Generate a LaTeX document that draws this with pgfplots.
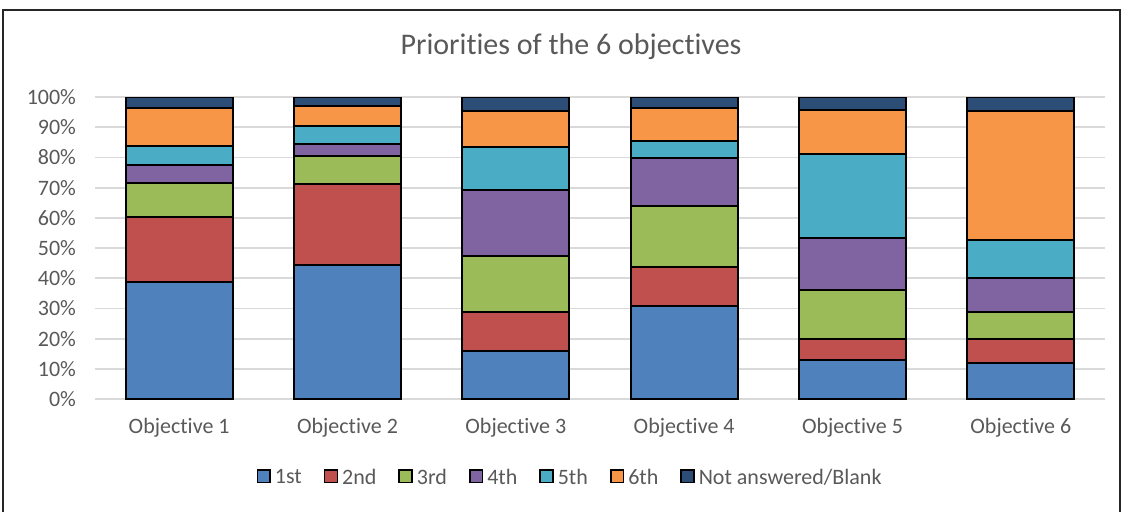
\documentclass[border=0pt]{standalone}
\usepackage{fontspec}
\setmainfont{Carlito}[Ligatures=NoCommon]
\usepackage{pgfplots}
\pgfplotsset{compat=1.18}
\definecolor{c1}{HTML}{4F81BD}
\definecolor{c2}{HTML}{C0504D}
\definecolor{c3}{HTML}{9BBB59}
\definecolor{c4}{HTML}{8064A2}
\definecolor{c5}{HTML}{4BACC6}
\definecolor{c6}{HTML}{F79646}
\definecolor{c7}{HTML}{2C4D75}
\definecolor{txt}{HTML}{595959}
\definecolor{grd}{HTML}{D9D9D9}
\begin{document}
\begin{tikzpicture}
\useasboundingbox (0,0) rectangle (562.5pt,255.5pt);
\draw[line width=1pt, black!85] (1.5pt,-1pt) -- (1.5pt,250.5pt) -- (560pt,250.5pt) -- (560pt,-1pt);
\node[text=txt, font=\fontsize{15}{18}\selectfont] at (285.5pt,232pt) {Priorities of the 6 objectives};
\begin{axis}[
  at={(47.5pt,56pt)}, anchor=south west, scale only axis,
  width=505pt, height=151pt,
  ybar stacked, bar width=53.5pt,
  xmin=-0.5, xmax=5.5, ymin=0, ymax=100,
  xtick={0,1,2,3,4,5},
  xticklabels={Objective 1,Objective 2,Objective 3,Objective 4,Objective 5,Objective 6},
  ytick={0,10,20,30,40,50,60,70,80,90,100},
  yticklabels={0\%,10\%,20\%,30\%,40\%,50\%,60\%,70\%,80\%,90\%,100\%},
  ymajorgrids, grid style={line width=0.9pt, color=grd},
  axis line style={draw=none}, major tick length=0pt,
  tick label style={font=\fontsize{11}{13}\selectfont, text=txt},
  yticklabel style={xshift=-6pt},
  xticklabel style={yshift=-6pt},
  /pgf/number format/assume math mode=true,
  legend style={at={(0.4713,-0.262)}, anchor=center, draw=none, fill=none,
    legend columns=-1, font=\fontsize{11}{13}\selectfont, text=txt,
    /tikz/every even column/.append style={column sep=9pt}},
  legend image code/.code={\draw[#1, line width=0.8pt] (0pt,-2.2pt) rectangle (6.4pt,4.2pt);},
  every axis plot/.append style={draw=black, line width=1pt},
]
\addplot[fill=c1] coordinates {(0,38.9) (1,44.3) (2,16.0) (3,30.7) (4,12.9) (5,11.8)};
\addplot[fill=c2] coordinates {(0,21.4) (1,26.8) (2,12.8) (3,13.0) (4,7.1) (5,8.2)};
\addplot[fill=c3] coordinates {(0,11.3) (1,9.3) (2,18.5) (3,20.1) (4,16.1) (5,8.8)};
\addplot[fill=c4] coordinates {(0,5.8) (1,4.1) (2,22.0) (3,16.1) (4,17.1) (5,11.4)};
\addplot[fill=c5] coordinates {(0,6.5) (1,6.0) (2,14.2) (3,5.4) (4,27.9) (5,12.5)};
\addplot[fill=c6] coordinates {(0,12.5) (1,6.4) (2,11.8) (3,11.2) (4,14.7) (5,42.6)};
\addplot[fill=c7] coordinates {(0,3.6) (1,3.1) (2,4.7) (3,3.5) (4,4.2) (5,4.7)};
\legend{1st,2nd,3rd,4th,5th,6th,Not answered/Blank}
\end{axis}
\end{tikzpicture}
\end{document}
